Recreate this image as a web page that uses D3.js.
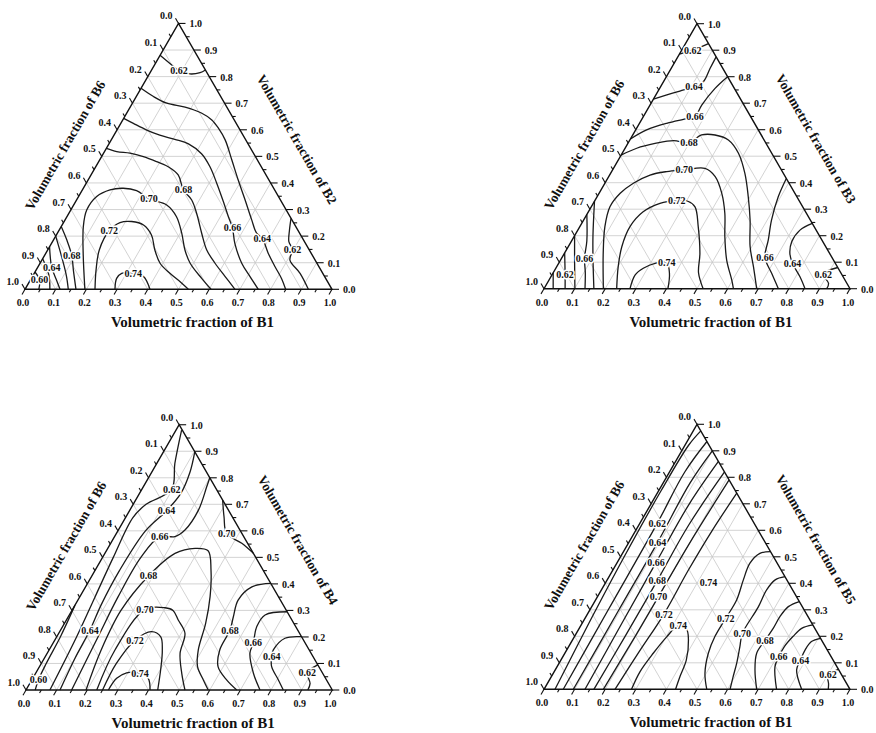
<!DOCTYPE html>
<html><head><meta charset="utf-8">
<script src="https://cdn.jsdelivr.net/npm/d3@7"></script>
<style>body{margin:0;background:#fff}</style>
</head><body><svg id="chart" width="876" height="733"></svg>
<script>
// ---------------- data ----------------
const majorTicks = [0,0.1,0.2,0.3,0.4,0.5,0.6,0.7,0.8,0.9,1.0];
const tickLabels = ["0.0","0.1","0.2","0.3","0.4","0.5","0.6","0.7","0.8","0.9","1.0"];
const minorTicks = [0.05,0.15,0.25,0.35,0.45,0.55,0.65,0.75,0.85,0.95];
const gridLevels = [0.1,0.2,0.3,0.4,0.5,0.6,0.7,0.8,0.9];
const bottomTitle = "Volumetric fraction of B1";
const leftTitle = "Volumetric fraction of B6";
const rightTitles = ["Volumetric fraction of B2","Volumetric fraction of B3","Volumetric fraction of B4","Volumetric fraction of B5"];

// contour lines: points are [B1, B2] fractions; "at" = indices of points carrying the level label
const panel1Contours = [
 {level:"0.62", at:[2], pts:[[0,0.88],[0.056,0.844],[0.091,0.822],[0.132,0.81],[0.163,0.815],[0.175,0.825]]},
 {level:"0.64", at:[13], pts:[[0,0.756],[0.056,0.725],[0.112,0.70],[0.179,0.685],[0.245,0.662],[0.29,0.637],[0.327,0.606],[0.371,0.562],[0.43,0.487],[0.489,0.411],[0.549,0.336],[0.608,0.261],[0.649,0.211],[0.677,0.192],[0.725,0.135],[0.772,0.085],[0.815,0.041],[0.849,0]]},
 {level:"0.66", at:[11], pts:[[0,0.643],[0.041,0.624],[0.097,0.599],[0.149,0.58],[0.206,0.564],[0.259,0.547],[0.32,0.51],[0.372,0.461],[0.425,0.399],[0.481,0.33],[0.526,0.273],[0.559,0.233],[0.597,0.173],[0.657,0.098],[0.709,0.048],[0.76,0]]},
 {level:"0.68", at:[7], pts:[[0,0.53],[0.04,0.518],[0.086,0.512],[0.136,0.499],[0.189,0.48],[0.236,0.461],[0.284,0.43],[0.329,0.374],[0.375,0.336],[0.416,0.286],[0.47,0.211],[0.518,0.148],[0.57,0.098],[0.628,0.048],[0.684,0]]},
 {level:"0.70", at:[8], pts:[[0.195,0],[0.122,0.135],[0.072,0.236],[0.052,0.298],[0.059,0.349],[0.09,0.374],[0.13,0.38],[0.178,0.371],[0.234,0.34],[0.303,0.317],[0.357,0.273],[0.405,0.211],[0.447,0.148],[0.489,0.098],[0.555,0.041],[0.606,0]]},
 {level:"0.72", at:[3], pts:[[0.228,0],[0.195,0.073],[0.168,0.148],[0.164,0.221],[0.184,0.251],[0.22,0.255],[0.265,0.242],[0.31,0.204],[0.349,0.148],[0.391,0.098],[0.442,0.06],[0.49,0.029],[0.532,0]]},
 {level:"0.74", at:[3], pts:[[0.293,0],[0.278,0.041],[0.285,0.06],[0.323,0.06],[0.362,0.048],[0.407,0]]},
 {level:"0.62", at:[3], pts:[[0.733,0.267],[0.75,0.223],[0.77,0.179],[0.796,0.15],[0.808,0.11],[0.866,0.06],[0.923,0]]},
 {level:"0.60", at:[1], pts:[[0,0.065],[0.03,0.035],[0.045,0]]},
 {level:"0.62", at:[], pts:[[0,0.115],[0.05,0.055],[0.081,0]]},
 {level:"0.64", at:[1], pts:[[0,0.16],[0.0455,0.083],[0.085,0.035],[0.114,0]]},
 {level:"0.66", at:[], pts:[[0,0.2],[0.06,0.12],[0.11,0.05],[0.141,0]]},
 {level:"0.68", at:[2], pts:[[0,0.236],[0.043,0.186],[0.089,0.127],[0.121,0.073],[0.166,0]]}
];
const panel2Contours = [
 {level:"0.62", at:[1], pts:[[0,0.885],[0.036,0.9],[0.075,0.925]]},
 {level:"0.64", at:[3], pts:[[0,0.715],[0.036,0.731],[0.071,0.746],[0.109,0.762],[0.13,0.781],[0.127,0.831],[0.125,0.875]]},
 {level:"0.66", at:[4], pts:[[0,0.565],[0.036,0.599],[0.089,0.624],[0.136,0.639],[0.169,0.649],[0.169,0.693],[0.181,0.756],[0.2,0.8]]},
 {level:"0.68", at:[4], pts:[[0,0.504],[0.038,0.53],[0.089,0.548],[0.144,0.559],[0.198,0.551],[0.225,0.58],[0.269,0.58],[0.322,0.561],[0.38,0.511],[0.439,0.435],[0.494,0.347],[0.544,0.259],[0.594,0.159],[0.643,0.083],[0.695,0]]},
 {level:"0.70", at:[8], pts:[[0.194,0],[0.127,0.133],[0.082,0.234],[0.061,0.309],[0.069,0.36],[0.093,0.398],[0.132,0.429],[0.18,0.442],[0.234,0.448],[0.299,0.454],[0.348,0.423],[0.401,0.36],[0.449,0.284],[0.493,0.196],[0.543,0.108],[0.597,0.033],[0.619,0]]},
 {level:"0.72", at:[6], pts:[[0.2375,0],[0.201,0.083],[0.175,0.1585],[0.164,0.234],[0.179,0.29],[0.218,0.322],[0.268,0.332],[0.305,0.33],[0.339,0.309],[0.387,0.234],[0.443,0.133],[0.475,0.06],[0.52,0]]},
 {level:"0.74", at:[4], pts:[[0.281,0],[0.272,0.052],[0.286,0.077],[0.315,0.096],[0.352,0.098],[0.381,0.058],[0.405,0]]},
 {level:"0.66", at:[4], pts:[[0.584,0.416],[0.592,0.347],[0.614,0.259],[0.641,0.184],[0.663,0.118],[0.715,0.058],[0.766,0]]},
 {level:"0.64", at:[4], pts:[[0.7535,0.2465],[0.726,0.221],[0.721,0.177],[0.737,0.133],[0.764,0.096],[0.814,0.045],[0.853,0]]},
 {level:"0.62", at:[1], pts:[[0.92,0.08],[0.885,0.055],[0.92,0.02],[0.924,0]]},
 {level:"0.60", at:[], pts:[[0,0.06],[0.03,0]]},
 {level:"0.62", at:[1], pts:[[0,0.135],[0.043,0.052],[0.069,0]]},
 {level:"0.64", at:[], pts:[[0,0.2],[0.05,0.1],[0.101,0]]},
 {level:"0.66", at:[2], pts:[[0,0.28],[0.05,0.18],[0.075,0.115],[0.105,0.06],[0.134,0]]},
 {level:"0.68", at:[], pts:[[0,0.33],[0.06,0.2],[0.1,0.12],[0.163,0]]}
];
const panel3Contours = [
 {level:"0.60", at:[3], pts:[[0,0.32],[0.012,0.2],[0.016,0.1],[0.0215,0.038],[0.03,0]]},
 {level:"0.62", at:[2], pts:[[0.018,0.98],[0.059,0.854],[0.0975,0.756],[0.042,0.70],[0.024,0.65],[0.035,0.5],[0.05,0.35],[0.065,0.2],[0.078,0]]},
 {level:"0.64", at:[3,7], pts:[[0.102,0.898],[0.125,0.82],[0.135,0.74],[0.121,0.676],[0.09,0.6],[0.08,0.45],[0.085,0.32],[0.096,0.226],[0.1,0.12],[0.111,0]]},
 {level:"0.66", at:[5], pts:[[0.2,0.8],[0.207,0.766],[0.224,0.678],[0.2175,0.603],[0.197,0.578],[0.148,0.578],[0.125,0.5],[0.125,0.35],[0.135,0.2],[0.149,0]]},
 {level:"0.68", at:[3], pts:[[0.196,0],[0.17,0.15],[0.16,0.3],[0.185,0.43],[0.229,0.515],[0.285,0.534],[0.332,0.525],[0.378,0.452],[0.425,0.352],[0.461,0.251],[0.487,0.151],[0.516,0.088],[0.56,0.038],[0.595,0]]},
 {level:"0.70", at:[2], pts:[[0.231,0],[0.215,0.15],[0.2365,0.304],[0.299,0.31],[0.33,0.3],[0.365,0.264],[0.412,0.214],[0.434,0.138],[0.477,0.063],[0.519,0]]},
 {level:"0.72", at:[2], pts:[[0.25,0],[0.245,0.1],[0.262,0.188],[0.3,0.22],[0.34,0.2],[0.37,0.15],[0.4,0.08],[0.43,0]]},
 {level:"0.74", at:[3], pts:[[0.269,0],[0.274,0.044],[0.296,0.065],[0.341,0.063],[0.377,0.044],[0.405,0]]},
 {level:"0.70", at:[2], pts:[[0.284,0.716],[0.32,0.653],[0.36,0.59],[0.428,0.553],[0.485,0.515]]},
 {level:"0.68", at:[4], pts:[[0.598,0.402],[0.543,0.389],[0.523,0.339],[0.539,0.276],[0.553,0.226],[0.557,0.151],[0.583,0.088],[0.636,0.038],[0.688,0]]},
 {level:"0.66", at:[3], pts:[[0.705,0.295],[0.639,0.283],[0.634,0.239],[0.653,0.178],[0.662,0.138],[0.711,0.063],[0.764,0]]},
 {level:"0.64", at:[3], pts:[[0.799,0.201],[0.748,0.195],[0.732,0.151],[0.738,0.128],[0.758,0.088],[0.805,0.038],[0.84,0]]},
 {level:"0.62", at:[1], pts:[[0.905,0.095],[0.886,0.065],[0.915,0.025],[0.92,0]]}
];
const panel4Contours = [
 {level:"0.60", at:[], pts:[[0.036,0],[0.022,0.25],[0.012,0.5],[0.008,0.75],[0.012,0.92],[0.025,0.975]]},
 {level:"0.62", at:[2], pts:[[0.063,0],[0.06,0.3],[0.057,0.626],[0.05,0.82],[0.065,0.935]]},
 {level:"0.64", at:[2], pts:[[0.096,0],[0.095,0.3],[0.094,0.5535],[0.088,0.78],[0.1,0.9]]},
 {level:"0.66", at:[2], pts:[[0.134,0],[0.13,0.25],[0.127,0.478],[0.125,0.7],[0.14,0.86]]},
 {level:"0.68", at:[2], pts:[[0.163,0],[0.165,0.2],[0.165,0.41],[0.163,0.62],[0.18,0.82]]},
 {level:"0.70", at:[2], pts:[[0.194,0],[0.198,0.2],[0.199,0.35],[0.2,0.55],[0.21,0.79]]},
 {level:"0.72", at:[2], pts:[[0.232,0],[0.24,0.14],[0.25,0.284],[0.247,0.45],[0.25,0.6],[0.26,0.74]]},
 {level:"0.74", at:[4], pts:[[0.286,0],[0.2805,0.066],[0.289,0.136],[0.302,0.198],[0.319,0.239],[0.353,0.226],[0.379,0.186],[0.41,0.11],[0.42,0.05],[0.43,0]]},
 {level:"0.72", at:[5], pts:[[0.4805,0.5195],[0.449,0.513],[0.435,0.476],[0.445,0.413],[0.461,0.337],[0.46,0.268],[0.459,0.199],[0.469,0.136],[0.496,0.06],[0.532,0]]},
 {level:"0.70", at:[4], pts:[[0.575,0.425],[0.549,0.413],[0.54,0.375],[0.545,0.31],[0.543,0.21],[0.56,0.16],[0.58,0.1],[0.595,0.045],[0.608,0]]},
 {level:"0.68", at:[4], pts:[[0.669,0.331],[0.6425,0.312],[0.634,0.274],[0.634,0.23],[0.63,0.185],[0.627,0.136],[0.653,0.073],[0.695,0]]},
 {level:"0.66", at:[4], pts:[[0.757,0.243],[0.727,0.23],[0.714,0.199],[0.705,0.161],[0.706,0.123],[0.712,0.0855],[0.76,0]]},
 {level:"0.64", at:[3], pts:[[0.8075,0.1925],[0.784,0.18],[0.779,0.148],[0.783,0.11],[0.789,0.073],[0.842,0]]},
 {level:"0.62", at:[1], pts:[[0.925,0.075],[0.901,0.054],[0.92,0.02],[0.929,0]]}
];
const panel4FreeLabels = [{level:"0.74", pt:[0.336,0.4025]}];

// ---------------- drawing ----------------
const FONT = "'Liberation Serif','Times New Roman',serif";
const svg = d3.select("#chart");
svg.append("rect").attr("width",876).attr("height",733).attr("fill","#fff");
const SQ = Math.sqrt(3)/2;
const layout = [
  {x0:25, y0:289.3, L:307},
  {x0:544, y0:288.7, L:306},
  {x0:26, y0:690, L:306.3},
  {x0:544, y0:689.3, L:306}
];
const allContours = [panel1Contours, panel2Contours, panel3Contours, panel4Contours];
const allFree = [[],[],[],panel4FreeLabels];

function drawPanel(i){
  const lay = layout[i];
  const g = svg.append("g");
  const xs = d3.scaleLinear().domain([0,1]).range([lay.x0, lay.x0+lay.L]);
  const ys = d3.scaleLinear().domain([0,1]).range([lay.y0, lay.y0-lay.L*SQ]);
  const P = (b1,b2) => [xs(b1+b2/2), ys(b2)];
  const seg = (a,b) => g.append("line").attr("x1",a[0]).attr("y1",a[1]).attr("x2",b[0]).attr("y2",b[1]);

  // grid
  gridLevels.forEach(t=>{
    [[P(0,t),P(1-t,t)],[P(t,0),P(t,1-t)],[P(0,1-t),P(1-t,0)]].forEach(s=>{
      seg(s[0],s[1]).attr("stroke","#c8c8c8").attr("stroke-width",0.8);
    });
  });

  // contours
  const line = d3.line().curve(d3.curveCatmullRom.alpha(0.5));
  const cg = g.append("g");
  allContours[i].forEach(c=>{
    cg.append("path").attr("d", line(c.pts.map(p=>P(p[0],p[1]))))
      .attr("fill","none").attr("stroke","#1a1a1a").attr("stroke-width",1.3);
  });

  // frame
  g.append("path").attr("d", "M"+[P(0,0),P(1,0),P(0,1)].map(p=>p.join(",")).join("L")+"Z")
    .attr("fill","none").attr("stroke","#111").attr("stroke-width",1.4);

  // ticks
  const dirs = {bottom:[-0.5,SQ], right:[1,0], left:[-0.5,-SQ]};
  const tickAt = (base,d,len) => seg(base,[base[0]+d[0]*len, base[1]+d[1]*len]).attr("stroke","#111").attr("stroke-width",1.1);
  majorTicks.forEach((t,k)=>{
    const b = P(t,0), r = P(1-t,t), l = P(0,1-t);
    tickAt(b,dirs.bottom,6); tickAt(r,dirs.right,7); tickAt(l,dirs.left,6);
    g.append("text").attr("x",b[0]-2).attr("y",lay.y0+17).attr("text-anchor","middle").text(tickLabels[k]).attr("class","tl");
    g.append("text").attr("x",r[0]+11).attr("y",r[1]+4).attr("text-anchor","start").text(tickLabels[k]).attr("class","tl");
    g.append("text").attr("x",l[0]-6).attr("y",l[1]-4).attr("text-anchor","end").text(tickLabels[k]).attr("class","tl");
  });
  minorTicks.forEach(t=>{
    tickAt(P(t,0),dirs.bottom,3.5); tickAt(P(1-t,t),dirs.right,3.5); tickAt(P(0,1-t),dirs.left,3.5);
  });
  g.selectAll("text.tl").attr("font-family",FONT).attr("font-weight","bold").attr("font-size",10).attr("fill","#111");

  // contour labels
  const lab = (pt,txt)=>{
    const p = P(pt[0],pt[1]);
    g.append("text").attr("x",p[0]).attr("y",p[1]).attr("dy","0.35em").attr("text-anchor","middle")
      .attr("font-family",FONT).attr("font-weight","bold").attr("font-size",10).attr("fill","#111")
      .attr("stroke","#fff").attr("stroke-width",3).attr("paint-order","stroke").text(txt);
  };
  allContours[i].forEach(c=> c.at.forEach(k=> lab(c.pts[k], c.level)));
  allFree[i].forEach(f=> lab(f.pt, f.level));

  // titles
  g.append("text").attr("x",lay.x0+lay.L/2+14).attr("y",lay.y0+38).attr("text-anchor","middle")
    .attr("font-family",FONT).attr("font-weight","bold").attr("font-size",15).attr("fill","#111").text(bottomTitle);
  g.append("text").attr("transform",`translate(${lay.x0+40},${lay.y0-144}) rotate(-60)`).attr("text-anchor","middle").attr("dy","0.35em")
    .attr("font-family",FONT).attr("font-weight","bold").attr("font-size",13.5).attr("fill","#111").text(leftTitle);
  g.append("text").attr("transform",`translate(${lay.x0+272},${lay.y0-150}) rotate(60)`).attr("text-anchor","middle").attr("dy","0.35em")
    .attr("font-family",FONT).attr("font-weight","bold").attr("font-size",13.5).attr("fill","#111").text(rightTitles[i]);
}
[0,1,2,3].forEach(drawPanel);
</script>
</body></html>
